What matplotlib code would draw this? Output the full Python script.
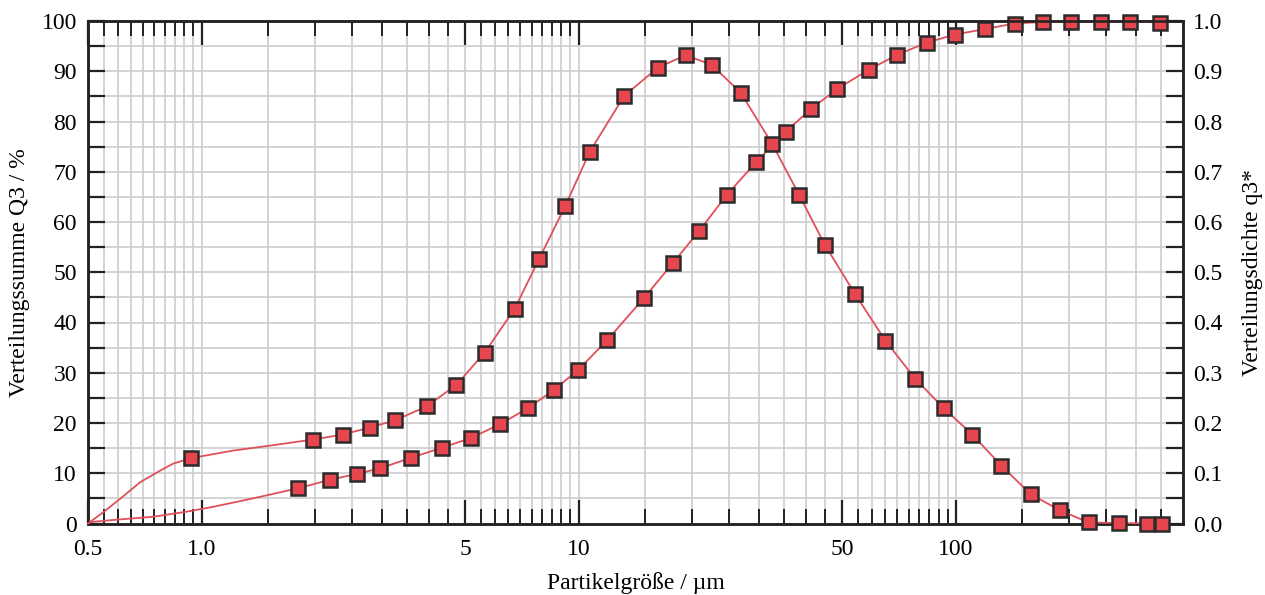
import numpy as np
import matplotlib
matplotlib.use("Agg")
import matplotlib.pyplot as plt
from matplotlib.ticker import FixedLocator, FixedFormatter, NullFormatter, MultipleLocator

plt.rcParams['font.family'] = ['Liberation Serif', 'DejaVu Serif']

# ---- data ----
# cumulative distribution Q3 (%), marker points
q3_x = [1.80, 2.19, 2.59, 2.98, 3.60, 4.35, 5.17, 6.20, 7.35, 8.60, 9.98, 11.9, 14.9,
        17.8, 20.9, 24.7, 29.6, 35.4, 41.3, 48.5, 58.7, 70.0, 83.7, 99.3, 119.5, 143,
        170, 202, 243, 289, 347]
q3_y = [7.0, 8.7, 9.9, 11.0, 13.1, 15.1, 17.0, 19.8, 23.0, 26.6, 30.6, 36.5, 44.9,
        51.9, 58.3, 65.4, 72.0, 78.0, 82.5, 86.5, 90.3, 93.3, 95.7, 97.3, 98.4, 99.5,
        99.8, 99.8, 99.9, 99.9, 99.7]
# leading part of the Q3 curve (line only)
q3_lead_x = [0.5, 0.511, 0.583, 0.745, 0.913, 1.07, 1.37]
q3_lead_y = [0.0, 0.3, 0.7, 1.35, 2.35, 3.3, 5.0]

# density distribution q3*, marker points
qd_x = [0.937, 1.97, 2.37, 2.79, 3.25, 3.95, 4.74, 5.63, 6.76, 7.86, 9.21, 10.7, 13.2,
        16.2, 19.2, 22.5, 26.9, 32.6, 38.4, 44.9, 54.0, 65.0, 78.0, 93.0, 110.5, 132,
        158, 189, 225, 270, 321, 352]
qd_y = [0.130, 0.167, 0.177, 0.191, 0.205, 0.233, 0.276, 0.340, 0.427, 0.527, 0.632,
        0.740, 0.851, 0.907, 0.932, 0.913, 0.857, 0.755, 0.654, 0.555, 0.457, 0.364,
        0.288, 0.229, 0.177, 0.115, 0.058, 0.026, 0.002, 0.001, 0.0, 0.0]
# line-only points of the q3* curve
qd_extra_x = [0.5, 0.548, 0.608, 0.687, 0.776, 0.84, 1.21, 1.52]
qd_extra_y = [0.0, 0.022, 0.049, 0.082, 0.105, 0.119, 0.145, 0.155]

x_major = [0.5, 1.0, 5, 10, 50, 100]
x_major_labels = ["0.5", "1.0", "5", "10", "50", "100"]
x_minor = list(np.arange(0.55, 0.99, 0.05)) + list(np.arange(1.5, 9.9, 0.5)) + \
          list(np.arange(15, 99, 5)) + list(np.arange(150, 399, 50))

# ---- styling ----
line_col = '#e0505a'
face_col = '#e8464e'
edge_col = '#2b2b2b'
grid_col = '#cdcdcd'
FS = 17

W, H = 1265, 595
fig = plt.figure(figsize=(W / 100, H / 100), dpi=100)
L, R, T, B = 88, 1183, 21, 523.5
ax = fig.add_axes([L / W, 1 - B / H, (R - L) / W, (B - T) / H])
ax.set_xscale('log')
ax.set_xlim(0.5, 400)
ax.set_ylim(0, 100)

ax.xaxis.set_major_locator(FixedLocator(x_major))
ax.xaxis.set_major_formatter(FixedFormatter(x_major_labels))
ax.xaxis.set_minor_locator(FixedLocator(x_minor))
ax.xaxis.set_minor_formatter(NullFormatter())
ax.yaxis.set_major_locator(MultipleLocator(10))
ax.yaxis.set_minor_locator(MultipleLocator(5))

ax.grid(True, which='both', color=grid_col, lw=1.2, zorder=0)
ax.set_axisbelow(True)

ax.tick_params(axis='x', which='major', direction='in', length=17, width=1.6,
               top=True, bottom=True, labelsize=FS, pad=11, color='#222222')
ax.tick_params(axis='x', which='minor', direction='in', length=11, width=1.4,
               top=True, bottom=True, color='#222222')
ax.tick_params(axis='y', which='both', direction='in', length=12, width=1.6,
               labelsize=FS, pad=8, color='#222222')

for s in ax.spines.values():
    s.set_linewidth(1.8)
    s.set_color('#222222')

ax2 = ax.twinx()
ax2.set_ylim(0, 1)
ax2.yaxis.set_major_locator(MultipleLocator(0.1))
ax2.yaxis.set_minor_locator(MultipleLocator(0.05))
ax2.yaxis.set_major_formatter(matplotlib.ticker.FormatStrFormatter('%.1f'))
ax2.tick_params(axis='y', which='both', direction='in', length=12, width=1.6,
                labelsize=FS, pad=7, color='#222222')
for s in ax2.spines.values():
    s.set_linewidth(1.8)
    s.set_color('#222222')

# Q3 curve
lx = q3_lead_x + q3_x
ly = q3_lead_y + q3_y
ax.plot(lx, ly, color=line_col, lw=1.3, zorder=3, clip_on=False)
ax.plot(q3_x, q3_y, ls='none', marker='s', ms=10, mfc=face_col, mec=edge_col,
        mew=1.8, zorder=4, clip_on=False)

# q3* curve
dpts = sorted(zip(qd_extra_x + qd_x, qd_extra_y + qd_y))
ax2.plot([p[0] for p in dpts], [p[1] for p in dpts], color=line_col, lw=1.3,
         zorder=3, clip_on=False)
ax2.plot(qd_x, qd_y, ls='none', marker='s', ms=10, mfc=face_col, mec=edge_col,
         mew=1.8, zorder=4, clip_on=False)

ax.set_xlabel('Partikelgröße / µm', fontsize=FS, labelpad=9)
ax.set_ylabel('Verteilungssumme Q3 / %', fontsize=FS, labelpad=8)
ax2.set_ylabel('Verteilungsdichte q3*', fontsize=FS, labelpad=14)

fig.savefig('out.png', dpi=100)
